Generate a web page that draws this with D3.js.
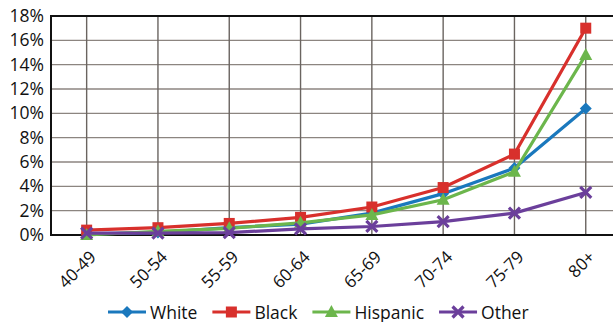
<!DOCTYPE html>
<html>
<head>
<meta charset="utf-8">
<script src="https://cdn.jsdelivr.net/npm/d3@7"></script>
<style>
  html, body { margin: 0; padding: 0; background: #fff; }
  svg { display: block; font-family: "Open Sans", sans-serif; }
</style>
</head>
<body>
<svg id="chart" width="613" height="322"></svg>
<script>
// Age groups along the x axis
const ageGroups = ["40-49", "50-54", "55-59", "60-64", "65-69", "70-74", "75-79", "80+"];

// Percent values for each group
const white    = [0.1, 0.2, 0.6, 0.9, 1.8, 3.4, 5.5, 10.4];
const black    = [0.4, 0.6, 0.95, 1.45, 2.3, 3.9, 6.65, 17.0];
const hispanic = [0.0, 0.3, 0.55, 1.0, 1.65, 2.9, 5.2, 14.8];
const other    = [0.15, 0.15, 0.2, 0.5, 0.7, 1.1, 1.8, 3.5];

const yTicks = [0, 2, 4, 6, 8, 10, 12, 14, 16, 18];

const seriesNames  = ["White", "Black", "Hispanic", "Other"];
const seriesValues = [white, black, hispanic, other];
const seriesColors = ["#1a78bd", "#d8302c", "#6cb64c", "#6b3f9b"];
const seriesShapes = ["diamond", "square", "triangle", "cross"];

const svg = d3.select("#chart");

const plot = { left: 51, top: 16, bottom: 235 };
const step = 71.3;

const x = d3.scalePoint()
  .domain(ageGroups)
  .range([plot.left + step / 2, plot.left + step / 2 + step * (ageGroups.length - 1)]);
const plotRight = plot.left + step * ageGroups.length;

const y = d3.scaleLinear().domain([0, 18]).range([plot.bottom, plot.top]);

// Horizontal grid
svg.append("g")
  .selectAll("line")
  .data(yTicks)
  .join("line")
  .attr("x1", plot.left).attr("x2", plotRight)
  .attr("y1", d => y(d)).attr("y2", d => y(d))
  .attr("stroke", "#8c8580").attr("stroke-width", 1.4);

// Vertical grid through each category
svg.append("g")
  .selectAll("line")
  .data(ageGroups)
  .join("line")
  .attr("x1", d => x(d)).attr("x2", d => x(d))
  .attr("y1", plot.top).attr("y2", plot.bottom)
  .attr("stroke", "#6a6460").attr("stroke-width", 1.4);

// Frame
svg.append("rect")
  .attr("x", plot.left).attr("y", plot.top)
  .attr("width", plotRight - plot.left).attr("height", plot.bottom - plot.top)
  .attr("fill", "none").attr("stroke", "#111").attr("stroke-width", 2);

// Y axis labels
const yAxis = d3.axisLeft(y)
  .tickValues(yTicks)
  .tickFormat(d => d + "%")
  .tickSize(0)
  .tickPadding(7);
const yg = svg.append("g").attr("transform", `translate(${plot.left},0)`).call(yAxis);
yg.select(".domain").remove();
yg.selectAll("text")
  .attr("font-family", "Open Sans, sans-serif")
  .attr("font-size", 17.5)
  .attr("fill", "#111");

// X axis labels, rotated
const xAxis = d3.axisBottom(x).tickSize(0).tickPadding(0);
const xg = svg.append("g").attr("transform", `translate(0,${plot.bottom})`).call(xAxis);
xg.select(".domain").remove();
xg.selectAll("text")
  .attr("font-family", "Open Sans, sans-serif")
  .attr("font-size", 17)
  .attr("fill", "#111")
  .attr("text-anchor", "end")
  .attr("dy", "0")
  .attr("transform", "translate(10,23) rotate(-45)");

// Marker symbols
function marker(g, shape, color) {
  if (shape === "diamond") {
    g.append("path").attr("d", "M0,-6L6,0L0,6L-6,0Z").attr("fill", color);
  } else if (shape === "square") {
    g.append("rect").attr("x", -5.5).attr("y", -5.5).attr("width", 11).attr("height", 11).attr("fill", color);
  } else if (shape === "triangle") {
    g.append("path").attr("d", "M0,-7L6.5,5L-6.5,5Z").attr("fill", color);
  } else {
    g.append("path").attr("d", "M-5.5,-5.5L5.5,5.5M-5.5,5.5L5.5,-5.5")
      .attr("stroke", color).attr("stroke-width", 3.2).attr("fill", "none");
  }
}

const line = d3.line().x((d, i) => x(ageGroups[i])).y(d => y(d));

seriesValues.forEach((vals, s) => {
  const g = svg.append("g");
  g.append("path")
    .datum(vals)
    .attr("d", line)
    .attr("fill", "none")
    .attr("stroke", seriesColors[s])
    .attr("stroke-width", 3.2);
  vals.forEach((v, i) => {
    const m = g.append("g").attr("transform", `translate(${x(ageGroups[i])},${y(v)})`);
    marker(m, seriesShapes[s], seriesColors[s]);
  });
});

// Legend
const legend = svg.append("g").attr("transform", "translate(108,312)");
let lx = 0;
seriesNames.forEach((name, s) => {
  const item = legend.append("g").attr("transform", `translate(${lx},0)`);
  item.append("line").attr("x1", 0).attr("x2", 38).attr("y1", 0).attr("y2", 0)
    .attr("stroke", seriesColors[s]).attr("stroke-width", 3);
  const m = item.append("g").attr("transform", "translate(19,0)");
  marker(m, seriesShapes[s], seriesColors[s]);
  const t = item.append("text")
    .attr("x", 42).attr("y", 6.5)
    .attr("font-family", "Open Sans, sans-serif")
    .attr("font-size", 17.5)
    .attr("fill", "#111")
    .text(name);
  lx += 42 + t.node().getComputedTextLength() + 15;
});
</script>
</body>
</html>
